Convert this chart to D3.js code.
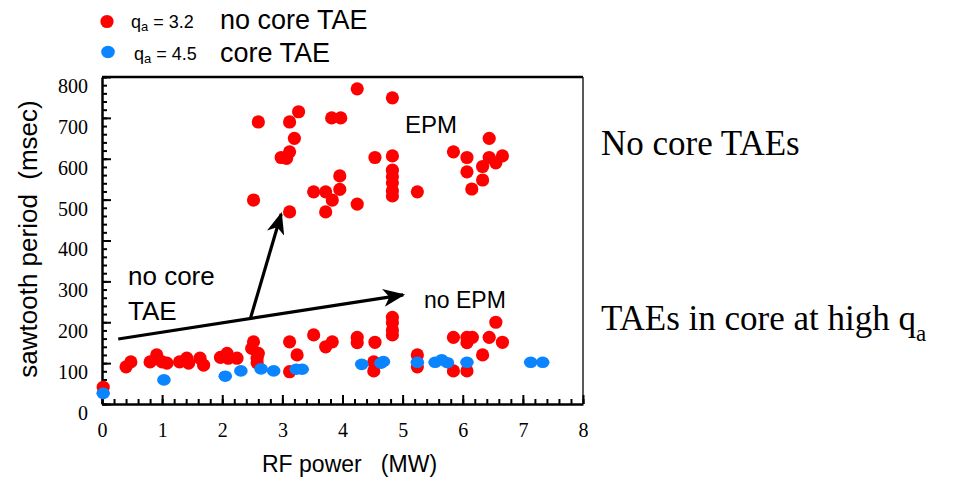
<!DOCTYPE html>
<html>
<head>
<meta charset="utf-8">
<script src="https://cdn.jsdelivr.net/npm/d3@7"></script>
<style>
  body { margin: 0; background: #fff; }
  svg { display: block; }
  .sans { font-family: "Liberation Sans", Arial, sans-serif; }
  .serif { font-family: "Liberation Serif", "Times New Roman", serif; }
  .tick text { font-family: "Liberation Serif", "Times New Roman", serif; font-size: 20px; fill: #000; }
</style>
</head>
<body>
<div id="chart"></div>
<script>
// q_a = 3.2 (no core TAE) - RF power (MW), sawtooth period (msec)
var redX = [2.6, 3.12, 3.27, 3.2, 3.12, 2.98, 3.07, 2.52, 3.12, 3.82, 3.97, 3.52, 3.72, 3.83, 3.72,
            3.955, 3.955, 4.245, 4.83, 4.54, 4.83, 4.83, 4.83, 4.83, 4.83, 4.83, 4.245, 5.245, 5.845,
            6.07, 6.07, 6.15, 6.33, 6.33, 6.44, 6.44, 6.55, 6.66,
            0.02, 0.4, 0.48, 0.8, 0.91, 1.0, 1.08, 1.29, 1.41, 1.44, 1.63, 1.69, 1.97, 2.08, 2.1,
            2.245, 2.52, 2.49, 2.6, 2.58, 2.58, 3.12, 3.245, 3.12, 3.52, 3.72, 3.83, 4.245, 4.245,
            4.54, 4.52, 4.52, 4.83, 4.83, 4.83, 4.83, 5.245, 5.245, 5.845, 5.845, 6.07, 6.16, 6.07,
            6.07, 6.33, 6.44, 6.55, 6.66];
var redY = [690, 690, 715, 650, 617, 603, 601, 499, 470, 700, 700, 519, 519, 499, 470,
            558, 525, 771, 749, 603, 607, 572, 556, 541, 522, 509, 489, 519, 617,
            603, 568, 526, 581, 548, 650, 603, 590, 607,
            41, 91, 103, 103, 120, 103, 100, 103, 112, 100, 112, 95, 114, 124, 112,
            112, 152, 136, 124, 112, 101, 152, 120, 79, 169, 140, 152, 163, 150,
            151, 103, 81, 212, 199, 181, 169, 120, 91, 163, 81, 163, 163, 150,
            81, 120, 163, 200, 151];

// q_a = 4.5 (core TAE)
var blueX = [0.02, 1.03, 2.05, 2.31, 2.645, 2.855, 3.23, 3.33, 4.32, 4.64, 4.68, 5.245, 5.54,
             5.65, 5.745, 6.07, 7.13, 7.33];
var blueY = [26, 59, 68, 81, 86, 81, 85, 85, 97, 100, 104, 102, 102, 108, 101, 102, 102, 102];

var xTicks = [0, 1, 2, 3, 4, 5, 6, 7, 8];
var yTicks = [0, 100, 200, 300, 400, 500, 600, 700, 800];

// arrows: [x1, y1, x2, y2] in data units
var arrows = [[0.27, 159, 5.01, 267], [2.47, 210, 2.98, 465]];

var width = 962, height = 477;
var margin = {left: 102, right: 379, top: 77, bottom: 73};
var serif = '"Liberation Serif", "Times New Roman", serif';

var svg = d3.select("#chart").append("svg")
    .attr("width", width)
    .attr("height", height);

var x = d3.scaleLinear().domain([0, 8]).range([margin.left, width - margin.right]);
var y = d3.scaleLinear().domain([0, 800]).range([height - margin.bottom, margin.top]);

var defs = svg.append("defs");
defs.append("marker")
    .attr("id", "head")
    .attr("viewBox", "0 0 22 18")
    .attr("markerUnits", "userSpaceOnUse")
    .attr("markerWidth", 22)
    .attr("markerHeight", 18)
    .attr("refX", 20)
    .attr("refY", 9)
    .attr("orient", "auto")
    .append("path")
    .attr("d", "M0,0 L22,9 L0,18 L6,9 Z")
    .attr("fill", "#000");

// frame (top and right)
svg.append("line")
    .attr("x1", x(0)).attr("x2", x(8))
    .attr("y1", y(800)).attr("y2", y(800))
    .attr("stroke", "#000").attr("stroke-width", 2.5);
svg.append("line")
    .attr("x1", x(8)).attr("x2", x(8))
    .attr("y1", y(800)).attr("y2", y(0))
    .attr("stroke", "#222").attr("stroke-width", 1.5);

// minor ticks
svg.append("g")
    .attr("transform", "translate(" + x(0) + ",0)")
    .call(d3.axisLeft(y).tickValues(d3.range(0, 801, 20)).tickSize(-5).tickFormat(""))
    .call(function(g) { g.select(".domain").remove(); })
    .selectAll("line").attr("stroke-width", 2);
svg.append("g")
    .attr("transform", "translate(0," + y(0) + ")")
    .call(d3.axisBottom(x).tickValues(d3.range(0, 8.01, 0.2)).tickSize(-5).tickFormat(""))
    .call(function(g) { g.select(".domain").remove(); })
    .selectAll("line").attr("stroke-width", 2);

// major axes
var yAxis = svg.append("g")
    .attr("transform", "translate(" + x(0) + ",0)")
    .call(d3.axisLeft(y).tickValues(yTicks).tickSize(-9).tickSizeOuter(0).tickPadding(14))
    .attr("font-family", serif)
    .attr("font-size", 20);
yAxis.select(".domain").attr("stroke-width", 2.5);
yAxis.selectAll(".tick line").attr("stroke-width", 2);
yAxis.selectAll(".tick text").attr("y", 9);

var xAxis = svg.append("g")
    .attr("transform", "translate(0," + y(0) + ")")
    .call(d3.axisBottom(x).tickValues(xTicks).tickSize(-9).tickSizeOuter(0).tickPadding(19))
    .attr("font-family", serif)
    .attr("font-size", 20);
xAxis.select(".domain").attr("stroke-width", 2.5);
xAxis.selectAll(".tick line").attr("stroke-width", 2);

// axis titles
svg.append("text")
    .attr("class", "sans")
    .attr("transform", "translate(37,239) rotate(-90)")
    .attr("text-anchor", "middle")
    .attr("font-size", 26)
    .style("white-space", "pre")
    .text("sawtooth period  (msec)");
svg.append("text")
    .attr("class", "sans")
    .attr("x", 262).attr("y", 472)
    .attr("font-size", 23)
    .style("white-space", "pre")
    .text("RF power   (MW)");

// points
var red = redX.map(function(d, i) { return {x: d, y: redY[i]}; });
var blue = blueX.map(function(d, i) { return {x: d, y: blueY[i]}; });

svg.append("g").selectAll("circle")
    .data(red)
    .enter().append("circle")
    .attr("cx", function(d) { return x(d.x); })
    .attr("cy", function(d) { return y(d.y); })
    .attr("r", 6.6)
    .attr("fill", "#ff0000");

svg.append("g").selectAll("ellipse")
    .data(blue)
    .enter().append("ellipse")
    .attr("cx", function(d) { return x(d.x); })
    .attr("cy", function(d) { return y(d.y); })
    .attr("rx", 6.8)
    .attr("ry", 5.8)
    .attr("fill", "#0a84ff");

// arrows
svg.append("g").selectAll("line")
    .data(arrows)
    .enter().append("line")
    .attr("x1", function(d) { return x(d[0]); })
    .attr("y1", function(d) { return y(d[1]); })
    .attr("x2", function(d) { return x(d[2]); })
    .attr("y2", function(d) { return y(d[3]); })
    .attr("stroke", "#000")
    .attr("stroke-width", 3.2)
    .attr("marker-end", "url(#head)");

// in-plot labels
svg.append("text").attr("class", "sans").attr("x", 405).attr("y", 133)
    .attr("font-size", 24).text("EPM");
svg.append("text").attr("class", "sans").attr("x", 424).attr("y", 308)
    .attr("font-size", 23).text("no EPM");
svg.append("text").attr("class", "sans").attr("x", 128).attr("y", 285)
    .attr("font-size", 26).text("no core");
svg.append("text").attr("class", "sans").attr("x", 128).attr("y", 320)
    .attr("font-size", 26).text("TAE");

// legend
svg.append("circle").attr("cx", 107).attr("cy", 21.5).attr("r", 6.6).attr("fill", "#ff0000");
svg.append("ellipse").attr("cx", 108).attr("cy", 52).attr("rx", 6.8).attr("ry", 6.2).attr("fill", "#0a84ff");

function qLabel(xp, yp, val) {
  var t = svg.append("text").attr("class", "sans").attr("x", xp).attr("y", yp).attr("font-size", 18);
  t.append("tspan").text("q");
  t.append("tspan").attr("font-size", 13).attr("dy", 3).text("a");
  t.append("tspan").attr("dy", -3).style("white-space", "pre").text(" = " + val);
}
qLabel(131, 28, "3.2");
qLabel(134, 60, "4.5");
svg.append("text").attr("class", "sans").attr("x", 220).attr("y", 29)
    .attr("font-size", 27).text("no core TAE");
svg.append("text").attr("class", "sans").attr("x", 220).attr("y", 62)
    .attr("font-size", 27).text("core TAE");

// right side notes
svg.append("text").attr("class", "serif").attr("x", 601).attr("y", 155)
    .attr("font-size", 35).text("No core TAEs");
var note = svg.append("text").attr("class", "serif").attr("x", 601).attr("y", 330)
    .attr("font-size", 35);
note.append("tspan").text("TAEs in core at high q");
note.append("tspan").attr("font-size", 23).attr("dy", 11).text("a");
</script>
</body>
</html>
